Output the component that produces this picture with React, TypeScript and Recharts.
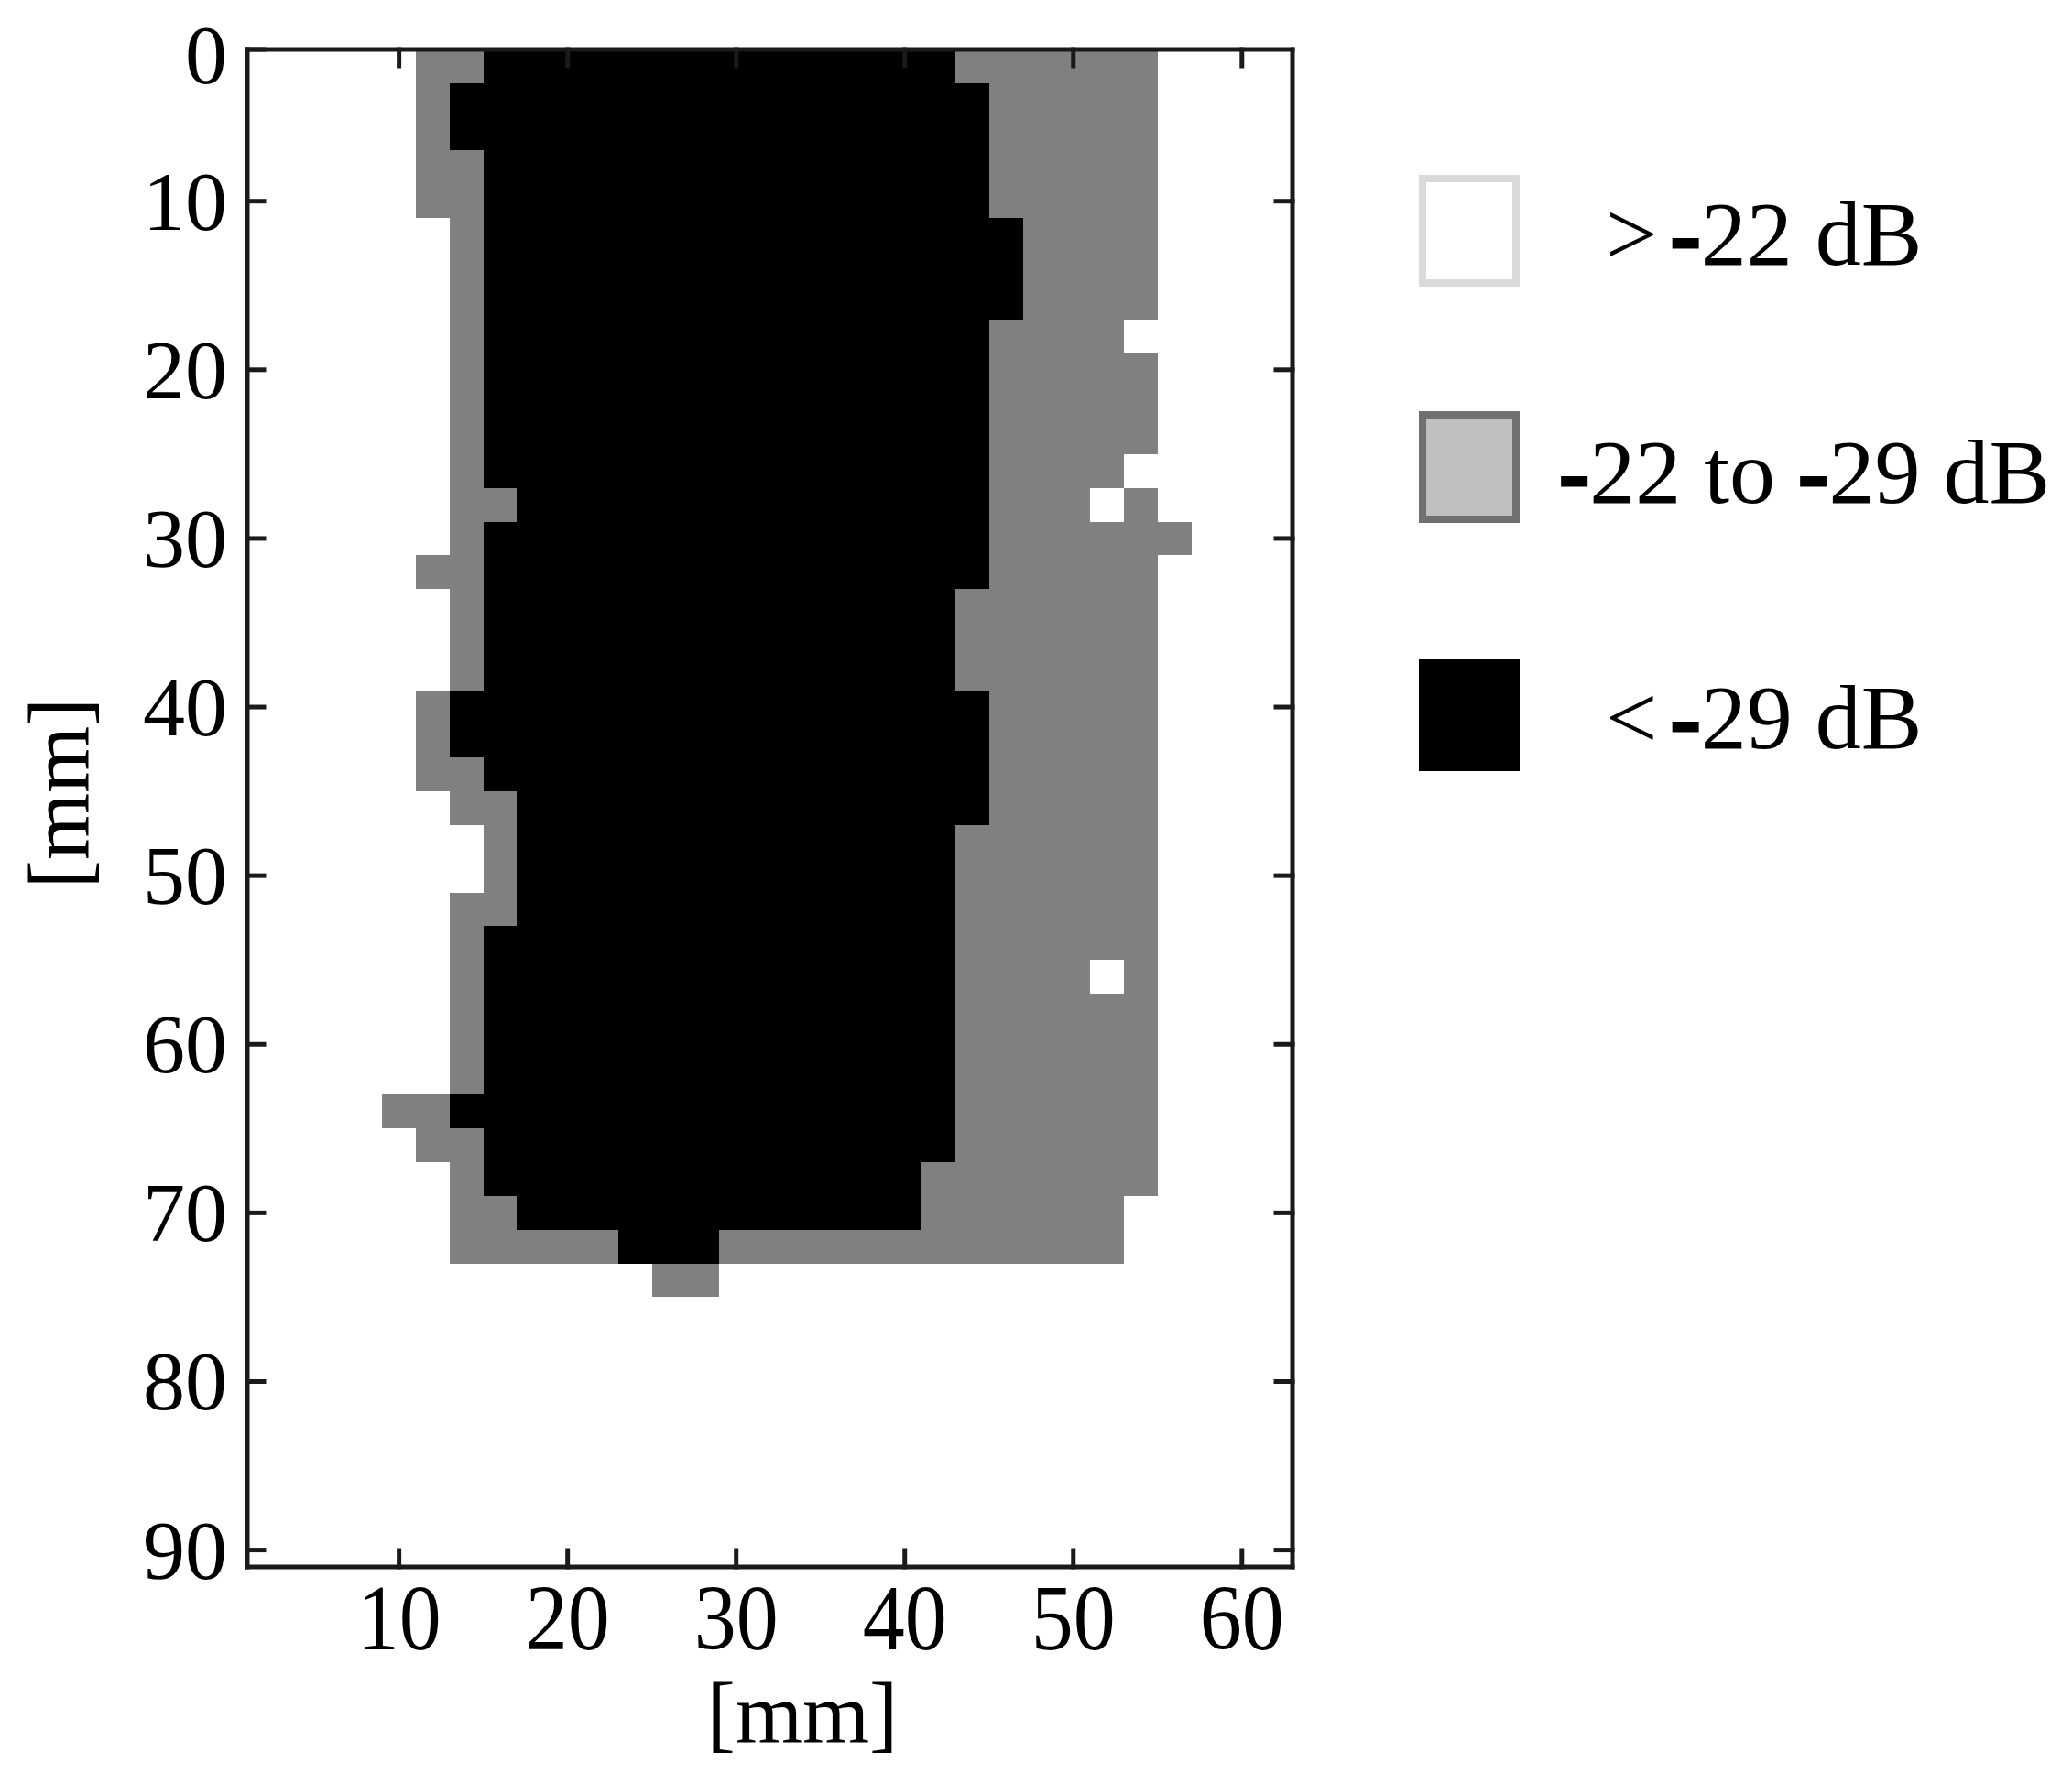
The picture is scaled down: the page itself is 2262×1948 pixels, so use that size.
import React from 'react';
import { ComposedChart, XAxis, YAxis, ReferenceArea, Scatter } from 'recharts';

// ---- data ----
const X_DOMAIN: [number, number] = [1, 63];
const Y_DOMAIN: [number, number] = [1, 91];
const CELL_MM = 2;
const X_TICKS = [10, 20, 30, 40, 50, 60];
const Y_TICKS = [1, 10, 20, 30, 40, 50, 60, 70, 80, 90];
const Y_TICK_LABELS: Record<number, string> = { 1: '0' };

// level per class: 1 = -22 to -29 dB (gray), 2 = < -29 dB (black); others are > -22 dB (white)
const LEVEL_LABELS = ['>-22 dB', '-22 to -29 dB', '<-29 dB'];
const LEVEL_FILLS = ['#ffffff', '#808080', '#000000'];
const LEGEND_FILLS = ['#ffffff', '#c0c0c0', '#000000'];
const LEGEND_STROKES = ['#d9d9d9', '#707070', '#000000'];

// each row (2 mm tall, from top): segments [firstColumn, lastColumn, level], columns are 2 mm wide
const ROW_SEGMENTS: [number, number, number][][] = [
  [[5, 6, 1], [7, 20, 2], [21, 26, 1]],
  [[5, 5, 1], [6, 21, 2], [22, 26, 1]],
  [[5, 5, 1], [6, 21, 2], [22, 26, 1]],
  [[5, 6, 1], [7, 21, 2], [22, 26, 1]],
  [[5, 6, 1], [7, 21, 2], [22, 26, 1]],
  [[6, 6, 1], [7, 22, 2], [23, 26, 1]],
  [[6, 6, 1], [7, 22, 2], [23, 26, 1]],
  [[6, 6, 1], [7, 22, 2], [23, 26, 1]],
  [[6, 6, 1], [7, 21, 2], [22, 25, 1]],
  [[6, 6, 1], [7, 21, 2], [22, 26, 1]],
  [[6, 6, 1], [7, 21, 2], [22, 26, 1]],
  [[6, 6, 1], [7, 21, 2], [22, 26, 1]],
  [[6, 6, 1], [7, 21, 2], [22, 25, 1]],
  [[6, 7, 1], [8, 21, 2], [22, 24, 1], [26, 26, 1]],
  [[6, 6, 1], [7, 21, 2], [22, 27, 1]],
  [[5, 6, 1], [7, 21, 2], [22, 26, 1]],
  [[6, 6, 1], [7, 20, 2], [21, 26, 1]],
  [[6, 6, 1], [7, 20, 2], [21, 26, 1]],
  [[6, 6, 1], [7, 20, 2], [21, 26, 1]],
  [[5, 5, 1], [6, 21, 2], [22, 26, 1]],
  [[5, 5, 1], [6, 21, 2], [22, 26, 1]],
  [[5, 6, 1], [7, 21, 2], [22, 26, 1]],
  [[6, 7, 1], [8, 21, 2], [22, 26, 1]],
  [[7, 7, 1], [8, 20, 2], [21, 26, 1]],
  [[7, 7, 1], [8, 20, 2], [21, 26, 1]],
  [[6, 7, 1], [8, 20, 2], [21, 26, 1]],
  [[6, 6, 1], [7, 20, 2], [21, 26, 1]],
  [[6, 6, 1], [7, 20, 2], [21, 24, 1], [26, 26, 1]],
  [[6, 6, 1], [7, 20, 2], [21, 26, 1]],
  [[6, 6, 1], [7, 20, 2], [21, 26, 1]],
  [[6, 6, 1], [7, 20, 2], [21, 26, 1]],
  [[4, 5, 1], [6, 20, 2], [21, 26, 1]],
  [[5, 6, 1], [7, 20, 2], [21, 26, 1]],
  [[6, 6, 1], [7, 19, 2], [20, 26, 1]],
  [[6, 7, 1], [8, 19, 2], [20, 25, 1]],
  [[6, 10, 1], [11, 13, 2], [14, 25, 1]],
  [[12, 13, 1]],
  [], [], [], [], [], [], [], [],
];

// ---- derived cells ----
type Run = { key: string; x1: number; x2: number; y1: number; y2: number; x: number; y: number; fill: string };
const RUNS: Run[] = [];
ROW_SEGMENTS.forEach((segs, r) => {
  segs.forEach(([c0, c1, lvl]) => {
    const x1 = X_DOMAIN[0] + c0 * CELL_MM;
    const x2 = X_DOMAIN[0] + (c1 + 1) * CELL_MM;
    const y1 = Y_DOMAIN[0] + r * CELL_MM;
    const y2 = Y_DOMAIN[0] + (r + 1) * CELL_MM;
    RUNS.push({ key: `${r}-${c0}`, x1, x2, y1, y2, x: (x1 + x2) / 2, y: (y1 + y2) / 2, fill: LEVEL_FILLS[lvl] });
  });
});

const FONT = "'Liberation Serif', 'Times New Roman', serif";
const AXIS_STYLE = { stroke: '#1a1a1a', strokeWidth: 5, strokeLinecap: 'square' as const };

const XTick = (props: any) => {
  const { x, y, payload } = props;
  return (
    <g transform={`translate(${x},${y}) scale(1,1.1)`}>
      <text x={0} y={62} textAnchor="middle" fontFamily={FONT} fontSize={92} fill="#000">
        {String(payload.value)}
      </text>
    </g>
  );
};

const YTick = (props: any) => {
  const { x, y, payload } = props;
  const label = Y_TICK_LABELS[payload.value] ?? String(payload.value);
  const shift = payload.value === Y_DOMAIN[0] ? 6 : 0;
  return (
    <text x={x} y={y + shift} dy={31} textAnchor="end" fontFamily={FONT} fontSize={92} fill="#000">
      {label}
    </text>
  );
};

const NoTick = () => <g />;

const LegendText = ({ label, x, y }: { label: string; x: number; y: number }) => {
  const parts = label.split('-');
  const nodes: React.ReactNode[] = [];
  parts.forEach((p, i) => {
    if (i > 0) {
      const prev = parts[i - 1];
      const gap = /[<>]$/.test(prev) ? 14 : 0;
      nodes.push(
        <tspan key={`d${i}`} fontWeight="bold" stroke="#000" strokeWidth={3} dx={gap}>
          -
        </tspan>
      );
    }
    if (p) nodes.push(<tspan key={`p${i}`}>{p}</tspan>);
  });
  return (
    <text x={x} y={y} fontFamily={FONT} fontSize={100} fill="#000">
      {nodes}
    </text>
  );
};

const LEGEND_BOX_TOPS = [191, 449, 720];
const LEGEND_TEXT_X = [1753, 1702, 1753];
const LEGEND_TEXT_Y = [289, 549, 817];

export default function App() {
  return (
    <div style={{ position: 'absolute', left: 0, top: 0, width: 2262, height: 1948, background: '#fff' }}>
      <ComposedChart
        width={2262}
        height={1948}
        data={RUNS}
        margin={{ top: 50, left: 120, right: 841, bottom: 107 }}
      >
        <XAxis
          xAxisId="b"
          dataKey="x"
          orientation="bottom"
          type="number"
          domain={X_DOMAIN}
          allowDataOverflow
          ticks={X_TICKS}
          interval={0}
          height={130}
          tickSize={-18}
          tickMargin={40}
          tick={(p: any) => <XTick {...p} />}
          axisLine={AXIS_STYLE}
          tickLine={AXIS_STYLE}
        />
        <XAxis
          xAxisId="t"
          dataKey="x"
          orientation="top"
          type="number"
          domain={X_DOMAIN}
          allowDataOverflow
          ticks={X_TICKS}
          interval={0}
          height={4}
          tickSize={-18}
          tick={NoTick}
          axisLine={AXIS_STYLE}
          tickLine={AXIS_STYLE}
        />
        <YAxis
          yAxisId="l"
          dataKey="y"
          orientation="left"
          type="number"
          domain={Y_DOMAIN}
          allowDataOverflow
          reversed
          ticks={Y_TICKS}
          interval={0}
          width={150}
          tickSize={-18}
          tickMargin={40}
          tick={(p: any) => <YTick {...p} />}
          axisLine={AXIS_STYLE}
          tickLine={AXIS_STYLE}
        />
        <YAxis
          yAxisId="r"
          dataKey="y"
          orientation="right"
          type="number"
          domain={Y_DOMAIN}
          allowDataOverflow
          reversed
          ticks={Y_TICKS.slice(1)}
          interval={0}
          width={10}
          tickSize={-18}
          tick={NoTick}
          axisLine={AXIS_STYLE}
          tickLine={AXIS_STYLE}
        />
        {RUNS.map((run) => (
          <ReferenceArea
            key={run.key}
            xAxisId="b"
            yAxisId="l"
            x1={run.x1}
            x2={run.x2}
            y1={run.y1}
            y2={run.y2}
            fill={run.fill}
            fillOpacity={1}
            stroke="none"
            shape={(p: any) => (
              <rect x={p.x} y={p.y} width={p.width} height={p.height} fill={run.fill} shapeRendering="crispEdges" />
            )}
          />
        ))}
        <Scatter xAxisId="t" yAxisId="r" data={RUNS} dataKey="y" shape={NoTick} isAnimationActive={false} />
      </ComposedChart>
      <svg
        width={2262}
        height={1948}
        style={{ position: 'absolute', left: 0, top: 0, pointerEvents: 'none' }}
      >
        <text x={876} y={1902} textAnchor="middle" fontFamily={FONT} fontSize={94} fill="#000">
          [mm]
        </text>
        <text
          x={96}
          y={866}
          transform="rotate(-90 96 866)"
          textAnchor="middle"
          fontFamily={FONT}
          fontSize={94}
          fill="#000"
        >
          [mm]
        </text>
        {LEVEL_LABELS.map((lab, i) => (
          <g key={lab}>
            <rect
              x={1553}
              y={LEGEND_BOX_TOPS[i] + 4}
              width={102}
              height={114}
              fill={LEGEND_FILLS[i]}
              stroke={LEGEND_STROKES[i]}
              strokeWidth={8}
            />
            <LegendText label={lab} x={LEGEND_TEXT_X[i]} y={LEGEND_TEXT_Y[i]} />
          </g>
        ))}
      </svg>
    </div>
  );
}
